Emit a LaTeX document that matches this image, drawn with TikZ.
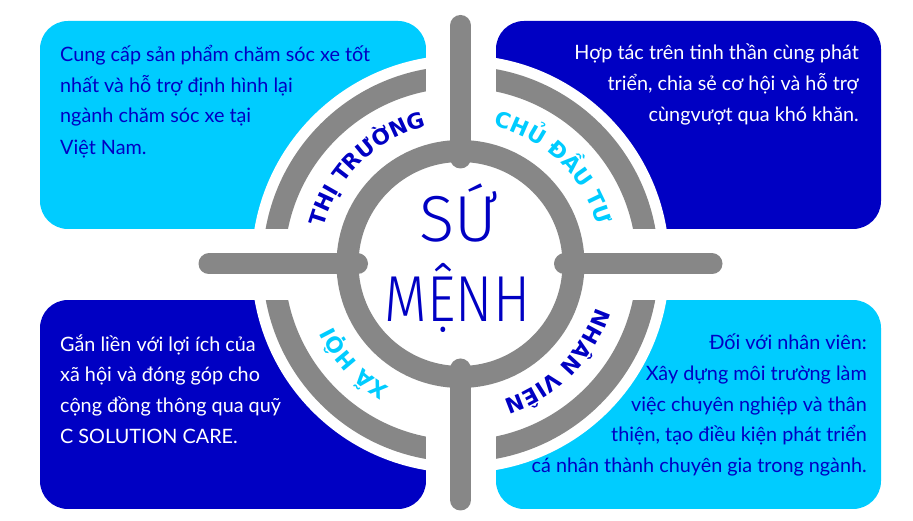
\documentclass[tikz,border=0pt]{standalone}
\usepackage{fontspec}
\setmainfont{Lato}
\newfontfamily\labelfont{DejaVu Sans}
\newfontfamily\thinfont{Fira Sans Light}
\usetikzlibrary{decorations.text}
\definecolor{lblue}{RGB}{0,204,255}
\definecolor{dblue}{RGB}{0,0,195}
\definecolor{ringgray}{RGB}{135,135,135}
\newcommand\lblfmt{\labelfont\bfseries\fontsize{21.5}{21.5}\selectfont}
\tikzset{
  box/.style={rounded corners=28pt},
  ring/.style={draw=ringgray, line width=22pt},
  bar/.style={draw=ringgray, line width=21pt, line cap=round},
  body/.style={inner sep=0pt, font=\fontsize{19.8}{19.8}\selectfont},
  bigtxt/.style={inner sep=0pt, anchor=base, text=dblue, font=\thinfont\fontsize{65}{65}\selectfont},
}
\begin{document}
\begin{tikzpicture}[x=1pt,y=1pt]
\useasboundingbox (0,0) rectangle (913,521);
\fill[white] (0,0) rectangle (913,521);
\coordinate (O) at (460.5,257);
% boxes
\fill[lblue, box] (40,292) rectangle (426,500);
\fill[dblue, box] (496,292) rectangle (881,500);
\fill[dblue, box] (40,12) rectangle (426,221);
\fill[lblue, box] (496,12) rectangle (881,221);
% cut
\fill[white] (O) circle[radius=209];
\draw[ring] (O) circle[radius=187];
\fill[white] (426,0) rectangle (496,521);
\fill[white] (0,221) rectangle (913,292);
\draw[ring] (O) circle[radius=113];
% bars
\coordinate (vt1) at ([yshift=238.5]O);
\coordinate (vt2) at ([yshift=106]O);
\coordinate (vb1) at ([yshift=-236]O);
\coordinate (vb2) at ([yshift=-105]O);
\coordinate (hl1) at ([xshift=-251.5]O);
\coordinate (hl2) at ([xshift=-103]O);
\coordinate (hr1) at ([xshift=251.5]O);
\coordinate (hr2) at ([xshift=104]O);
\draw[bar] (vt1) -- (vt2);
\draw[bar] (vb1) -- (vb2);
\draw[bar] (hl1) -- (hl2);
\draw[bar] (hr1) -- (hr2);
% curved labels
\path[decorate, decoration={text along path, text align=center,
  text={|\lblfmt\color{dblue}|THỊ TRƯỜNG}}]
  ([shift={(184.5:142)}]O) arc[start angle=184.5, end angle=84.5, radius=142];
\path[decorate, decoration={text along path, text align=center,
  text={|\lblfmt\color{lblue}|CHỦ ĐẦU TƯ}}]
  ([shift={(96:142)}]O) arc[start angle=96, end angle=-4, radius=142];
\path[decorate, decoration={text along path, text align=center,
  text={|\lblfmt\color{dblue}|NHÂN VIÊN}}]
  ([shift={(5:142)}]O) arc[start angle=5, end angle=-95, radius=142];
\path[decorate, decoration={text along path, text align=center,
  text={|\lblfmt\color{lblue}|XÃ HỘI}}]
  ([shift={(273:142)}]O) arc[start angle=273, end angle=173, radius=142];
% center
\node[bigtxt] (su) at (458,279) {SỨ};
\node[bigtxt] (menh) at (457.5,199) {\scalebox{0.85}[1]{MỆNH}};
% top-left text
\node[body, text=dblue, anchor=base west] (tl1) at (60,459) {Cung cấp sản phẩm chăm sóc xe tốt};
\node[body, text=dblue, anchor=base west] (tl2) at (60,428) {nhất và hỗ trợ định hình lại};
\node[body, text=dblue, anchor=base west] (tl3) at (60,398) {ngành chăm sóc xe tại};
\node[body, text=dblue, anchor=base west] (tl4) at (60,366) {Việt Nam.};
% top-right text
\node[body, text=white, anchor=base east] (tr1) at (859,461) {Hợp tác trên tinh thần cùng phát};
\node[body, text=white, anchor=base east] (tr2) at (859,430) {triển, chia sẻ cơ hội và hỗ trợ};
\node[body, text=white, anchor=base east] (tr3) at (859,399) {cùngvượt qua khó khăn.};
% bottom-left text
\node[body, text=white, anchor=base west] (bl1) at (60,169) {Gắn liền với lợi ích của};
\node[body, text=white, anchor=base west] (bl2) at (60,139) {xã hội và đóng góp cho};
\node[body, text=white, anchor=base west] (bl3) at (60,108) {cộng đồng thông qua quỹ};
\node[body, text=white, anchor=base west] (bl4) at (60,77) {C SOLUTION CARE.};
% bottom-right text
\node[body, text=dblue, anchor=base east] (br1) at (867,171) {Đối với nhân viên:};
\node[body, text=dblue, anchor=base east] (br2) at (867,140) {Xây dựng môi trường làm};
\node[body, text=dblue, anchor=base east] (br3) at (867,109) {việc chuyên nghiệp và thân};
\node[body, text=dblue, anchor=base east] (br4) at (867,79) {thiện, tạo điều kiện phát triển};
\node[body, text=dblue, anchor=base east] (br5) at (867,48) {cá nhân thành chuyên gia trong ngành.};
\end{tikzpicture}
\end{document}
